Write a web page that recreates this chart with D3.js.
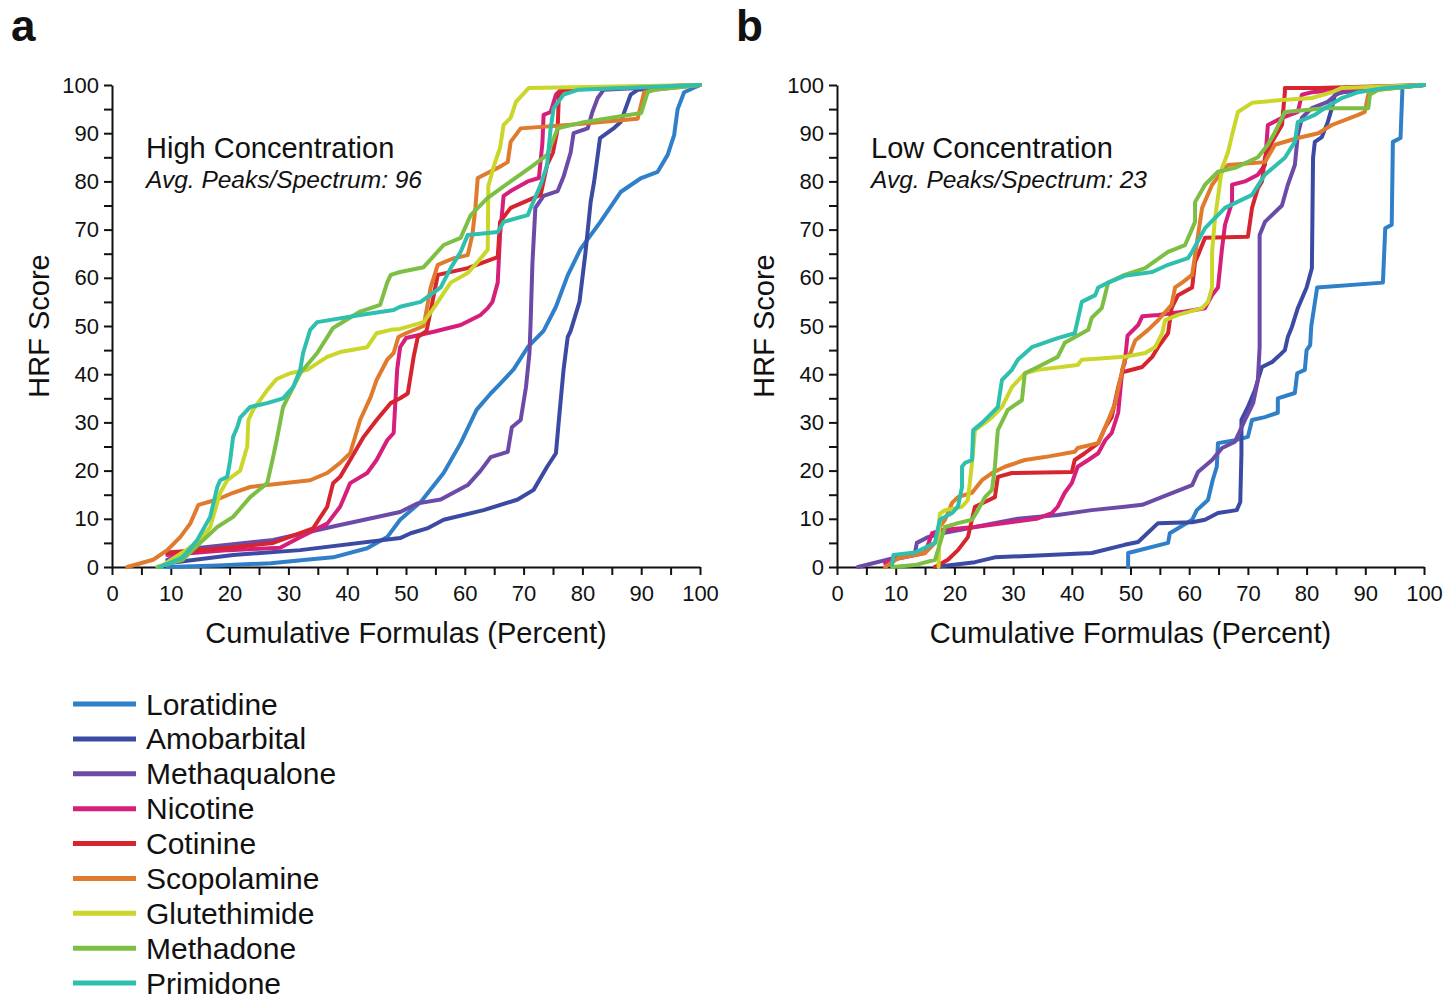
<!DOCTYPE html>
<html>
<head>
<meta charset="utf-8">
<title>HRF Score vs Cumulative Formulas</title>
<script src="https://cdn.jsdelivr.net/npm/d3@7/dist/d3.min.js"></script>
<style>
  html, body { margin: 0; padding: 0; background: #fff; }
  svg { display: block; font-family: "Liberation Sans", Arial, Helvetica, sans-serif; }
</style>
</head>
<body>
<svg id="chart" width="1447" height="1003"></svg>
<script>
// Compounds, in legend order
const compounds = ["Loratidine", "Amobarbital", "Methaqualone", "Nicotine", "Cotinine",
                   "Scopolamine", "Glutethimide", "Methadone", "Primidone"];
const compoundColors = ["#2f7fc9", "#3b4aa3", "#6b4ba7", "#d61f7b", "#d7252f",
                        "#e07b2d", "#cbd62b", "#7dbf45", "#2ebfae"];

// Axis ticks
const tickValues = d3.range(0, 101, 5);
const labelledTicks = d3.range(0, 101, 10);

// Panel titles
const panelLetters = ["a", "b"];
const panelTitles = ["High Concentration", "Low Concentration"];
const panelSubtitles = ["Avg. Peaks/Spectrum: 96", "Avg. Peaks/Spectrum: 23"];

// ---- High concentration: [cumulative formulas %, HRF score] ----
const loratidineHigh = [[9.4,0],[18,0.3],[27,0.8],[33,1.5],[37.6,2],[43.4,3.9],[46.8,6.2],[49,9.8],[52.5,13.5],[56.4,19.5],[59.3,25.7],[62,32.6],[64.4,36],[66,38],[68.3,41],[70.7,45.6],[73.4,49],[75.5,54],[77.5,60.5],[79.7,66],[83,71.5],[86.5,77.8],[90,80.7],[92.8,82],[94.5,85.5],[95.6,89.6],[96.2,95],[97.3,98.5],[100,100]];
const amobarbitalHigh = [[9.4,0.8],[20.6,2.5],[32,3.5],[49,6],[50.8,7],[53.6,8],[56.4,9.8],[63.2,11.8],[69,14],[71.7,16],[74,20.8],[75.5,23.6],[76,30.5],[76.8,41],[77.5,47.7],[78,49],[79.5,55],[80.5,65],[81.4,75.7],[82,80],[83,89],[85.3,91],[86.5,92.3],[88.2,98],[89.4,99],[100,100]];
const methaqualoneHigh = [[9.4,1.5],[15,4],[27.4,5.6],[38,8.5],[49,11.4],[52,13.2],[55.9,14],[60.5,17],[62.7,20],[64.4,22.8],[67.3,23.9],[68,29],[69.5,30.5],[70.4,37.3],[71,44.4],[71.2,51],[71.5,63],[72,74.5],[73.4,77],[75.8,78],[76.8,81],[78,86],[78.5,90],[80.9,91],[81.7,94.4],[82.6,97.3],[83.6,99],[100,100]];
const nicotineHigh = [[9.4,2.5],[20,3.5],[28.6,4],[32,6.2],[36.6,9],[38.8,12.5],[40.5,17.4],[43.4,19.5],[45,22.2],[46.8,26.3],[47.9,27.8],[48.5,41],[49,45.6],[50,47.5],[54.7,48.8],[59.3,50.2],[62.7,52.3],[63.9,53.7],[64.7,55],[65.6,59],[66,69],[66.6,77],[67.8,78],[70.7,80],[72.6,80.7],[73.2,88],[73.4,93.8],[74.6,94.4],[75.5,98],[76.3,99],[100,100]];
const cotinineHigh = [[9.4,3],[20,4],[27.4,5],[34.2,8],[36.6,12.5],[37.6,17.4],[38.8,18.7],[40.5,22.2],[42.8,27],[45,30.5],[47.4,34],[49,35],[50.3,36],[51.3,43.6],[52,47.7],[53.5,49],[54.5,55],[55.4,60.6],[60.5,62],[65.6,64.3],[66,71.6],[67.8,74.5],[72.9,77.2],[74,83.4],[75,86],[75.8,91],[76,98],[76.8,99],[100,100]];
const scopolamineHigh = [[2.6,0],[7,1.5],[9.4,3.5],[11.6,6.2],[13.3,9],[14.7,12.9],[17.9,14],[20.6,15.4],[23.5,16.6],[33.7,18],[36.6,19.5],[38.8,21.6],[40.5,23.6],[42.2,30.5],[44,35.3],[45,38.8],[46.8,43],[47.9,44.4],[48.7,47.7],[50,48.5],[53,50],[54.2,58],[55.4,62.7],[58,64],[60.5,64.7],[61.3,69],[61.8,74.5],[62.2,80.7],[65.6,82.8],[67.3,84],[67.8,88.2],[69.5,91],[77.5,91.7],[89.4,93],[90.5,98.5],[92.2,99],[100,100]];
const glutethimideHigh = [[8.2,0],[12,3],[15,5.6],[16.7,8.3],[18.4,15.4],[19.6,18],[21.8,20],[23,25],[23.2,30.5],[24,32.6],[26.4,36.7],[28,39],[30.3,40.2],[33.2,40.9],[36.6,43.6],[38.8,44.6],[43.4,45.6],[45,48.5],[47.4,49.2],[49,49.4],[53,50.8],[54.7,53.7],[57.6,59],[60.5,61],[62.2,63.3],[63.9,65.8],[64,79],[65,83.4],[66,87],[66.6,91.7],[67.8,93.2],[68.7,96.5],[70.9,99.4],[100,100]];
const methadoneHigh = [[7.7,0],[12,1.5],[15,5],[17.9,8.3],[20.6,10.4],[23.5,14.5],[26.4,17.4],[27.4,22.8],[28,26.3],[29.1,33.2],[32,40.2],[34.9,44.4],[37.6,49.6],[42.2,53],[45.6,54.4],[46.8,59],[47.4,60.6],[49,61.2],[53,62.2],[56.4,66.8],[59.3,68.3],[61,73],[63.9,76.6],[67.8,80],[71.7,83.4],[74,85.5],[75.8,91],[80.2,92.3],[90,94.2],[91.1,98.5],[92.2,99],[100,100]];
const primidoneHigh = [[8.2,0],[12,2],[14.5,5.6],[16.7,10.4],[17.9,16.6],[18.4,18],[19.6,18.7],[20.1,22.2],[20.6,27],[21.3,29],[21.8,31],[23.5,33.2],[26.4,34],[29.1,35],[30.8,37.3],[32,40.9],[32.5,44.4],[33.7,49.2],[34.9,50.8],[42.2,52.3],[47.9,53.3],[49,54],[52.5,55],[55.9,58],[57.6,62],[59.3,65.4],[60.5,68.9],[65.6,69.5],[66.6,71.6],[70.7,73],[71.2,74.5],[72.9,79.3],[74,83.4],[74.6,91],[75.1,95.2],[76.8,98],[79.2,99],[100,100]];

// ---- Low concentration ----
const loratidineLow = [[49.6,0],[49.6,2.9],[56.4,5],[56.7,7],[60.5,9.8],[61.3,11.8],[63.2,13.9],[64,18],[64.7,20.8],[64.9,25.7],[67.8,26.3],[70,27],[70.7,30.5],[72.9,31.1],[75.1,32],[75.1,35],[78,36.1],[78.4,40.2],[79.7,40.9],[80,45],[80.6,46],[80.8,50],[81.8,58],[93,59],[93.4,70.3],[94.5,71],[94.7,88.2],[96,89],[96.3,98.5],[96.3,99.6],[100,100]];
const amobarbitalLow = [[16.7,0],[23.5,1],[26.9,2],[43.4,2.9],[49,4.6],[51.3,5.2],[54.7,9.1],[60.5,9.3],[62.7,9.8],[64.9,11.2],[68.1,11.8],[68.7,13.5],[68.9,23.6],[68.9,30.5],[70,33.2],[71.2,36.7],[71.7,38.8],[72.4,41.5],[74.1,42.5],[75.1,43.6],[76.3,45],[76.8,47.7],[77.5,49.8],[78.5,53.7],[80,58],[80.9,62],[81.1,84.9],[81.4,88.2],[82.6,89.2],[83.6,92.3],[84.3,95.2],[84.8,97.9],[86,98.5],[100,100]];
const methaqualoneLow = [[3.6,0],[9.4,1.8],[13.3,3],[13.6,5],[15.5,6.2],[17.9,7],[23.5,8.3],[30.8,10],[37.6,10.8],[43.4,11.8],[49,12.5],[52,12.9],[56.4,15],[60.5,17],[61.5,19.7],[63.9,22.2],[65.6,24.7],[67.8,26],[69.5,30.5],[70.9,34],[71.7,38.8],[72,45.6],[72,68.9],[72.9,71.6],[74.6,73.6],[75.8,75],[76.8,79.3],[78,83.4],[78.5,89.6],[79.2,93.2],[80.9,95.2],[83.6,96.5],[85.3,98.3],[88.2,99],[100,100]];
const nicotineLow = [[8.2,0.8],[9.4,1.5],[15,2.9],[16.2,7],[17.9,7.7],[23.5,8.3],[30.8,9.5],[34,10],[36.6,11.2],[37.6,12.5],[38.8,15.4],[40,17.4],[41,20.8],[42.8,22.2],[44.5,23.6],[45.7,26.3],[46.8,27.8],[47.9,32],[48.6,40.9],[49,42.3],[49.5,48],[51.3,50.2],[52,52],[54.7,52.3],[59.3,53],[62.7,53.7],[63.9,56.4],[64.9,58],[65.6,66.2],[66.1,71],[67.3,75.7],[67.3,79.3],[69.5,80],[71.7,81.4],[72.9,83.4],[73.4,91.7],[75.8,93.2],[78.5,94.4],[79.2,98],[80.9,98.5],[88.8,99.4],[100,100]];
const cotinineLow = [[16.7,0],[18.9,1.5],[20.6,3.5],[22.3,6.2],[23.5,12.5],[25.2,13.5],[26.9,14.5],[27.4,18.7],[29.8,19.5],[40,19.7],[40.5,22.2],[42.2,23.6],[44.5,25.7],[45.7,29],[46.8,31.1],[47.9,37.3],[48.6,40.4],[52,41.5],[53.7,43.6],[54.7,45.6],[56.4,48.5],[57,53.7],[58.1,56.4],[60.5,58],[61,63.3],[61.5,64.7],[62.7,68.3],[70,68.5],[70.7,74.5],[71.7,78.6],[72.4,80],[72.9,84.9],[74.1,88.2],[75.8,91.7],[76.3,98.5],[76.3,99.4],[82,99.4],[100,100]];
const scopolamineLow = [[8.2,0],[10.4,1.8],[15,2.9],[16.7,5],[17.5,8.3],[18.4,9.8],[19.6,13.3],[20.6,14.5],[23,15.4],[24.7,18],[26.4,19.5],[28.6,20.8],[32,22.2],[35.4,22.8],[40.5,23.9],[41,24.7],[44.5,25.7],[45.7,29],[47.4,34],[48.6,40.9],[49,43],[50,44.4],[50.8,47],[53,49.2],[54.7,51.2],[57,54.4],[57.6,58],[58.8,59],[60.5,60.6],[62.2,74.5],[63.9,79.3],[65.6,82],[66.6,83.4],[72.9,84],[74.6,87.6],[78.5,89],[82,90],[84.3,91.7],[88.8,93.8],[89.9,94.4],[90.5,98],[92.2,99],[100,100]];
const glutethimideLow = [[17.3,0],[17.5,11],[18.4,11.8],[21.3,12.5],[22.3,13.9],[23,21.6],[23.5,28.4],[25.2,29.9],[26.4,31.1],[28.1,33.2],[29.8,37.3],[32,40.2],[34.2,40.9],[41,41.9],[41.7,43],[49,43.6],[52.5,44.4],[54.2,45.6],[55.4,48.5],[55.9,51.2],[58.1,52.3],[62.2,53.7],[63.2,55],[63.9,58],[63.9,65.4],[64.4,72.4],[65.6,82.8],[66.6,86],[67.3,89.6],[68.3,94.4],[70.7,96.3],[75.8,96.9],[80.9,97.3],[84.3,98.5],[86,99.4],[100,100]];
const methadoneLow = [[9.4,0],[13.3,0.4],[16.7,1.5],[18.4,8.3],[20.6,9.1],[23,9.8],[24,11.8],[25.2,14.5],[26.4,16],[26.9,20.8],[27.4,28.4],[29.1,32.6],[31.5,34.6],[32,40.2],[34.2,41.5],[37.6,43.6],[38.8,46.5],[42.8,49.2],[43.4,51.7],[45.1,53.7],[46.2,59],[49,60.6],[52.5,62],[56.4,65.4],[59.3,66.8],[61,71.6],[61,75.7],[62.7,79.3],[64.9,82],[67.8,82.8],[71.7,85],[73.4,87.6],[74.6,90.2],[76.3,94.4],[83.1,95.2],[90.5,95.2],[90.8,98],[92.2,99],[100,100]];
const primidoneLow = [[9.4,0.5],[9.6,2.5],[13.3,3],[16.7,5],[17.5,9.8],[19.6,11.2],[20.6,12.5],[21.3,16.6],[21.3,20.8],[21.8,21.6],[23,22.2],[23.2,28.4],[24.7,29.9],[25.7,31.1],[27.4,33.2],[28.1,38.8],[29.8,40.9],[30.8,43],[33.2,45.6],[37.6,47.5],[40.5,48.5],[41,51.2],[41.7,55],[44,56.4],[44.5,58],[46.2,59],[49,60.4],[53.7,61.2],[56.4,62.7],[59.8,64.1],[60.5,65.4],[62.7,70.3],[66.1,74.5],[70.7,77.2],[72.9,81.4],[76.3,84.9],[78,88.2],[78.5,92.3],[81.4,93.8],[83.1,95.2],[86,97.3],[88.8,98.5],[93.4,99.4],[100,100]];

const highSeries = [loratidineHigh, amobarbitalHigh, methaqualoneHigh, nicotineHigh, cotinineHigh,
                    scopolamineHigh, glutethimideHigh, methadoneHigh, primidoneHigh];
const lowSeries = [loratidineLow, amobarbitalLow, methaqualoneLow, nicotineLow, cotinineLow,
                   scopolamineLow, glutethimideLow, methadoneLow, primidoneLow];

const svg = d3.select("#chart");

const plotTop = 85, plotBottom = 567;
const panels = [
  { left: 112, right: 700, series: highSeries },
  { left: 837, right: 1424, series: lowSeries }
];

panels.forEach((p, i) => {
  const x = d3.scaleLinear().domain([0, 100]).range([p.left, p.right]);
  const y = d3.scaleLinear().domain([0, 100]).range([plotBottom, plotTop]);
  const g = svg.append("g");

  // Axes: a tick every 5, a label every 10
  const fmt = d => (labelledTicks.includes(d) ? d : "");
  const xAxis = d3.axisBottom(x).tickValues(tickValues).tickFormat(fmt)
    .tickSize(8).tickSizeOuter(0).tickPadding(10);
  const yAxis = d3.axisLeft(y).tickValues(tickValues).tickFormat(fmt)
    .tickSize(8).tickSizeOuter(0).tickPadding(5);

  const gx = g.append("g").attr("transform", `translate(0,${plotBottom})`).call(xAxis);
  const gy = g.append("g").attr("transform", `translate(${p.left},0)`).call(yAxis);
  [gx, gy].forEach(a => {
    a.selectAll("path.domain").attr("stroke", "#111").attr("stroke-width", 2);
    a.selectAll(".tick line").attr("stroke", "#111").attr("stroke-width", 2);
    a.selectAll(".tick text").attr("fill", "#111")
      .style("font-size", "22px").style("font-family", "'Liberation Sans', Arial, sans-serif");
  });

  // Curves
  const line = d3.line().x(d => x(d[0])).y(d => y(d[1]));
  p.series.forEach((s, k) => {
    g.append("path")
      .datum(s)
      .attr("d", line)
      .attr("fill", "none")
      .attr("stroke", compoundColors[k])
      .attr("stroke-width", 4)
      .attr("stroke-linejoin", "round")
      .attr("stroke-linecap", "round");
  });

  // Axis titles
  g.append("text")
    .attr("x", (p.left + p.right) / 2).attr("y", 643)
    .attr("text-anchor", "middle").attr("fill", "#111")
    .style("font-size", "29px")
    .text("Cumulative Formulas (Percent)");
  g.append("text")
    .attr("transform", `translate(${p.left - 63},${(plotTop + plotBottom) / 2}) rotate(-90)`)
    .attr("text-anchor", "middle").attr("fill", "#111")
    .style("font-size", "29px")
    .text("HRF Score");

  // Panel annotation
  g.append("text")
    .attr("x", p.left + 34).attr("y", 158).attr("fill", "#111")
    .style("font-size", "29px")
    .text(panelTitles[i]);
  g.append("text")
    .attr("x", p.left + 34).attr("y", 188).attr("fill", "#111")
    .style("font-size", "24.5px").style("font-style", "italic")
    .text(panelSubtitles[i]);

  // Panel letter
  g.append("text")
    .attr("x", p.left - 101).attr("y", 41).attr("fill", "#111")
    .style("font-size", "44px").style("font-weight", "bold")
    .text(panelLetters[i]);
});

// Legend
const legend = svg.append("g");
const legendY = d3.scalePoint().domain(compounds).range([704, 983]);
compounds.forEach((name, k) => {
  const cy = legendY(name);
  legend.append("line")
    .attr("x1", 73).attr("x2", 136).attr("y1", cy).attr("y2", cy)
    .attr("stroke", compoundColors[k]).attr("stroke-width", 5);
  legend.append("text")
    .attr("x", 146).attr("y", cy + 10.5).attr("fill", "#111")
    .style("font-size", "30px")
    .text(name);
});
</script>
</body>
</html>
